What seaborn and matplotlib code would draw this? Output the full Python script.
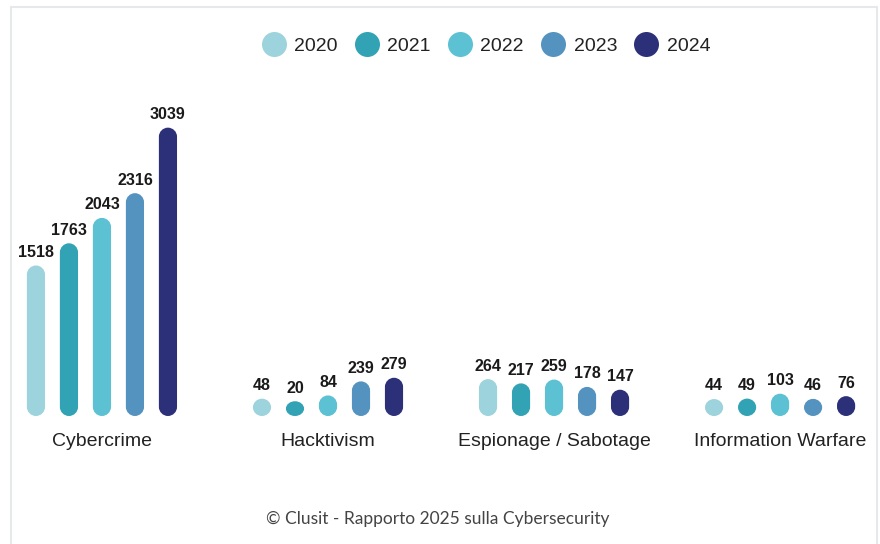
import numpy as np
import pandas as pd
import seaborn as sns
import matplotlib
matplotlib.use("Agg")
import matplotlib.pyplot as plt
from matplotlib.path import Path
from matplotlib.patches import PathPatch
from matplotlib.lines import Line2D

categories = ["Cybercrime", "Hacktivism", "Espionage / Sabotage", "Information Warfare"]
years = ["2020", "2021", "2022", "2023", "2024"]
values_2020 = [1518, 48, 264, 44]
values_2021 = [1763, 20, 217, 49]
values_2022 = [2043, 84, 259, 103]
values_2023 = [2316, 239, 178, 46]
values_2024 = [3039, 279, 147, 76]
colors = ["#9dd3dc", "#31a3b4", "#5bc1d3", "#5493bf", "#2b3079"]
footer = "© Clusit - Rapporto 2025 sulla Cybersecurity"

series = [values_2020, values_2021, values_2022, values_2023, values_2024]
rows = []
for yr, vals in zip(years, series):
    for cat, v in zip(categories, vals):
        rows.append({"category": cat, "year": yr, "value": v})
df = pd.DataFrame(rows)

sns.set_theme(style="white")
plt.rcParams["font.family"] = ["Liberation Sans", "DejaVu Sans"]

W, H = 880, 544
fig = plt.figure(figsize=(W / 100, H / 100), dpi=100)
ax_bottom_px, ax_top_px = 416, 104
ax = fig.add_axes([0, (H - ax_bottom_px) / H, 1, (ax_bottom_px - ax_top_px) / H])

sns.barplot(data=df, x="category", y="value", hue="year", order=categories,
            hue_order=years, palette=colors, width=0.73, gap=0.45,
            ax=ax, legend=False, errorbar=None, saturation=1)

xlim = (-0.451, 3.442)
ylim = (-143, 3300)
ax.set_xlim(*xlim)
ax.set_ylim(*ylim)
xpp = (xlim[1] - xlim[0]) / W
ypp = (ylim[1] - ylim[0]) / (ax_bottom_px - ax_top_px)
pad = ylim[0]  # pill bottom


def pill_path(x0, y0, w, h, rx, ry):
    k = 0.5523
    x1, y1 = x0 + w, y0 + h
    verts = [
        (x0 + rx, y0), (x1 - rx, y0),
        (x1 - rx + k * rx, y0), (x1, y0 + ry - k * ry), (x1, y0 + ry),
        (x1, y1 - ry),
        (x1, y1 - ry + k * ry), (x1 - rx + k * rx, y1), (x1 - rx, y1),
        (x0 + rx, y1),
        (x0 + rx - k * rx, y1), (x0, y1 - ry + k * ry), (x0, y1 - ry),
        (x0, y0 + ry),
        (x0, y0 + ry - k * ry), (x0 + rx - k * rx, y0), (x0 + rx, y0),
        (x0 + rx, y0),
    ]
    codes = [Path.MOVETO, Path.LINETO,
             Path.CURVE4, Path.CURVE4, Path.CURVE4,
             Path.LINETO,
             Path.CURVE4, Path.CURVE4, Path.CURVE4,
             Path.LINETO,
             Path.CURVE4, Path.CURVE4, Path.CURVE4,
             Path.LINETO,
             Path.CURVE4, Path.CURVE4, Path.CURVE4,
             Path.CLOSEPOLY]
    return Path(verts, codes)


patches = list(ax.patches)
for p in patches:
    x0 = p.get_x()
    w = p.get_width()
    h = p.get_height()
    fc = p.get_facecolor()
    p.remove()
    total = h - pad
    rx = w / 2
    ry = min((w / 2) / xpp * ypp, total / 2)
    pp = PathPatch(pill_path(x0, pad, w, total, rx, ry), facecolor=fc,
                   edgecolor="none")
    ax.add_patch(pp)
    ax.annotate(f"{int(round(h))}", (x0 + w / 2, h), xytext=(0, 4),
                textcoords="offset points", ha="center", va="bottom",
                fontsize=11.5, fontweight="bold", color="#1a1a1a")

ax.set_xlabel("")
ax.set_ylabel("")
ax.set_yticks([])
ax.tick_params(axis="x", length=0, pad=12, labelsize=14, colors="#222222")
for s in ax.spines.values():
    s.set_visible(False)
ax.patch.set_alpha(0)

handles = [Line2D([0], [0], marker="o", linestyle="none", markersize=18,
                  markerfacecolor=c, markeredgecolor="none") for c in colors]
fig.legend(handles, years, loc="center", bbox_to_anchor=(0.552, 1 - 46 / H),
           ncol=5, frameon=False, fontsize=14, handlelength=1.3,
           handletextpad=0.4, columnspacing=0.85, labelcolor="#222222")

fig.text(0.497, 1 - 519 / H, footer, ha="center", va="center",
         fontsize=12.5, color="#444444", family=["Lato", "DejaVu Sans"])

# light frame
bc = "#e6e8eb"
fig.add_artist(Line2D([11 / W, 11 / W], [0, 1 - 7 / H], transform=fig.transFigure, color=bc, lw=1.5))
fig.add_artist(Line2D([11 / W, 877 / W], [1 - 7 / H, 1 - 7 / H], transform=fig.transFigure, color=bc, lw=1.5))
fig.add_artist(Line2D([877 / W, 877 / W], [0, 1 - 7 / H], transform=fig.transFigure, color=bc, lw=1.5))

fig.savefig("out.png", dpi=100)
